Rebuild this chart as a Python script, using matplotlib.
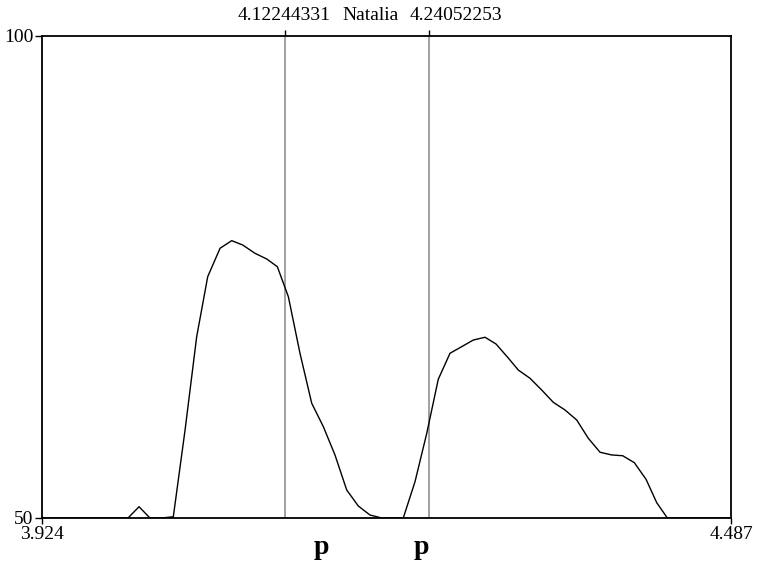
import matplotlib
matplotlib.use("Agg")
import matplotlib.pyplot as plt

plt.rcParams['font.family'] = ['Liberation Serif', 'DejaVu Serif']

# intensity contour (time in s, intensity in dB)
times = [3.9240, 3.9943, 4.0033, 4.0122, 4.0217, 4.0313, 4.0409, 4.0504,
         4.0594, 4.0695, 4.0790, 4.0880, 4.0980, 4.1076, 4.1163, 4.1253,
         4.1348, 4.1444, 4.1539, 4.1634, 4.1730, 4.1825, 4.1920, 4.2016,
         4.2111, 4.2192, 4.2288, 4.2384, 4.2478, 4.2574, 4.2669, 4.2764,
         4.2860, 4.2950, 4.3045, 4.3132, 4.3228, 4.3323, 4.3418, 4.3514,
         4.3609, 4.3704, 4.3800, 4.3895, 4.3985, 4.4080, 4.4176, 4.4263,
         4.4350, 4.4870]
intensity = [50.0, 50.0, 51.17, 50.0, 50.0, 50.13, 59.13, 68.81,
             75.03, 77.98, 78.77, 78.32, 77.46, 76.87, 76.07, 72.96,
             67.09, 61.90, 59.47, 56.54, 52.90, 51.24, 50.31, 50.0,
             50.0, 50.0, 53.77, 58.79, 64.39, 67.09, 67.77, 68.46,
             68.75, 68.05, 66.67, 65.35, 64.49, 63.28, 62.00, 61.20,
             60.17, 58.27, 56.82, 56.54, 56.46, 55.74, 54.01, 51.59,
             50.0, 50.0]

t_start, t_end = 3.924, 4.487
y_min, y_max = 50, 100
sel_left = 4.12244331
sel_right = 4.24052253
speaker = 'Natalia'
segments = ['p', 'p']
segment_pos = [4.1526, 4.2343]

fig = plt.figure(figsize=(7.58, 5.69), dpi=100)
ax = fig.add_axes([42/758, 51/569, 689/758, 482/569])

ax.plot(times, intensity, color='black', lw=1.0, zorder=3)
for t in (sel_left, sel_right):
    ax.axvline(t, color='#999999', lw=1.3, zorder=2)

ax.set_xlim(t_start, t_end)
ax.set_ylim(y_min, y_max)

ax.set_xticks([t_start, t_end])
ax.set_xticklabels(['%.3f' % t_start, '%.3f' % t_end])
ax.set_yticks([y_min, y_max])
ax.set_yticklabels([str(y_min), str(y_max)])
ax.tick_params(axis='x', direction='out', length=4, width=1.0, pad=2, labelsize=14)
ax.tick_params(axis='y', direction='out', length=5, width=1.0, pad=1, labelsize=14)

top = ax.secondary_xaxis('top')
top.set_xticks([sel_left, sel_right])
top.set_xticklabels(['', ''])
top.tick_params(direction='out', length=4, width=1.0, color='black')
top.spines['top'].set_visible(False)

for sp in ax.spines.values():
    sp.set_linewidth(1.3)

# header text above the plot
fig.text(284/758, 1 - 20/569, '%.8f' % sel_left, ha='center', va='baseline', fontsize=14)
fig.text(371/758, 1 - 20/569, speaker, ha='center', va='baseline', fontsize=14)
fig.text(410/758, 1 - 20/569, '%.8f' % sel_right, ha='left', va='baseline', fontsize=14)

# segment labels under the axis
for lab, t in zip(segments, segment_pos):
    ax.text(t, -0.075, lab, transform=ax.get_xaxis_transform(), ha='center',
            va='baseline', fontsize=20, fontweight='bold')

fig.savefig('out.png', dpi=100)
